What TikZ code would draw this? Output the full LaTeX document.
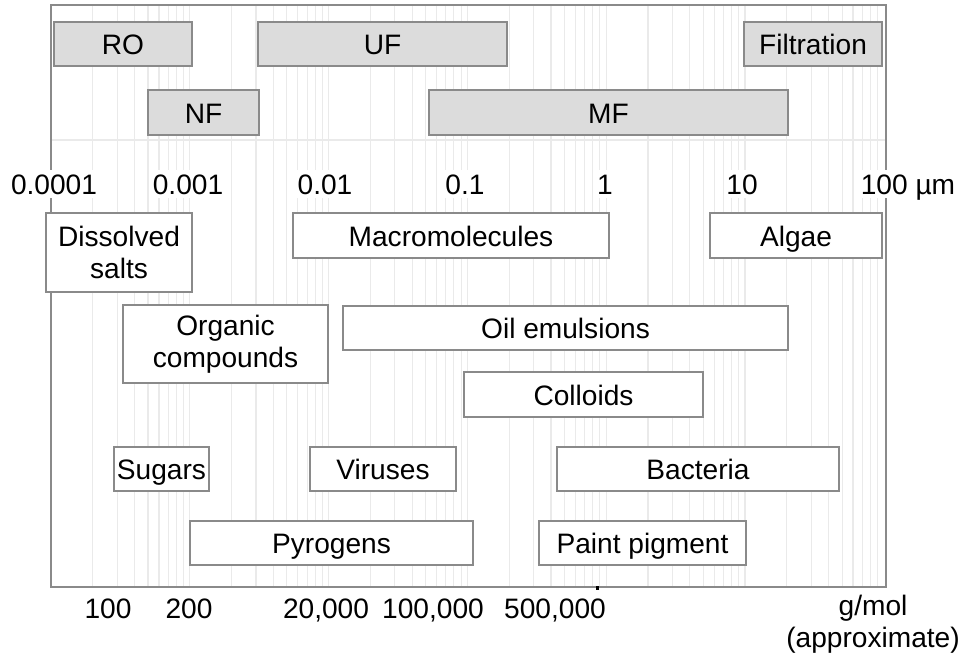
\documentclass[tikz,border=0pt]{standalone}
\usepackage{fontspec}
\setmainfont{Liberation Sans}
\usepackage{xcolor}
\definecolor{bandgray}{RGB}{220,220,220}
\definecolor{edgegray}{RGB}{138,138,138}
\definecolor{gridgray}{RGB}{234,234,234}

\begin{document}
\begin{tikzpicture}[
    x=0.02cm, y=-0.02cm,
    font=\fontsize{16}{18.5}\selectfont,
    boxbase/.style={draw=edgegray, line width=1.1pt, fill=white, align=center, inner sep=0pt, minimum height=0.89cm},
    box/.style={boxbase, text height=13pt, text depth=1pt},
    band/.style={box, fill=bandgray},
    tallbox/.style={boxbase, minimum height=1.57cm},
    scalelabel/.style={fill=white, inner sep=1pt, text height=13pt, text depth=1pt}
]
\useasboundingbox (0,0) rectangle (962,655);

% log grid and frame
\foreach \k in {0,...,5}
  \foreach \m in {1,...,9}
    \draw[gridgray, line width=0.6pt] ({51+138.8*(\k+log10(\m))},5) -- ++(0,582);
\draw[gridgray, line width=0.6pt] (51,140) -- (886,140);
\draw[edgegray, line width=1.1pt] (51,5) rectangle (886,587);

% processes
\node[band, minimum width=2.76cm] (ro) at (123,44) {RO};
\node[band, minimum width=4.98cm] (uf) at (382.5,44) {UF};
\node[band, minimum width=2.76cm] (filt) at (813,44) {Filtration};
\node[band, minimum width=2.22cm] (nf) at (203.5,112.5) {NF};
\node[band, minimum width=7.18cm] (mf) at (608.5,112.5) {MF};

% size scale
\node[scalelabel] (d4) at (54,184) {0.0001};
\node[scalelabel] (d3) at (188,184) {0.001};
\node[scalelabel] (d2) at (325,184) {0.01};
\node[scalelabel] (d1) at (465,184) {0.1};
\node[scalelabel] (d0) at (605,184) {1};
\node[scalelabel] (u1) at (742,184) {10};
\node[scalelabel] (u2) at (908,184) {100 µm};

% particles
\node[tallbox, minimum width=2.92cm] (salts) at (119,252.5) {Dissolved\\salts};
\node[box, minimum width=6.32cm] (macro) at (451,235.5) {Macromolecules};
\node[box, minimum width=3.44cm] (algae) at (796,235.5) {Algae};
\node[tallbox, minimum width=4.10cm] (organic) at (225.5,344) {Organic\\compounds};
\node[box, minimum width=8.90cm] (oil) at (565.5,328) {Oil emulsions};
\node[box, minimum width=4.78cm] (colloids) at (583.5,394.5) {Colloids};
\node[box, minimum width=1.90cm] (sugars) at (161.5,469) {Sugars};
\node[box, minimum width=2.92cm] (viruses) at (383,469) {Viruses};
\node[box, minimum width=5.64cm] (bacteria) at (698,469) {Bacteria};
\node[box, minimum width=5.66cm] (pyro) at (331.5,543) {Pyrogens};
\node[box, minimum width=4.14cm] (paint) at (642.5,543) {Paint pigment};

% molecular weight
\fill (595.5,586) rectangle ++(3,3.5);
\node[scalelabel] (m100) at (108,608) {100};
\node[scalelabel] (m200) at (189,608) {200};
\node[scalelabel] (m20k) at (326,608) {20,000};
\node[scalelabel] (m100k) at (433,608) {100,000};
\node[scalelabel] (m500k) at (555,608) {500,000};
\node[align=center] (gmol) at (873,624) {g/mol\\(approximate)};
\end{tikzpicture}
\end{document}
